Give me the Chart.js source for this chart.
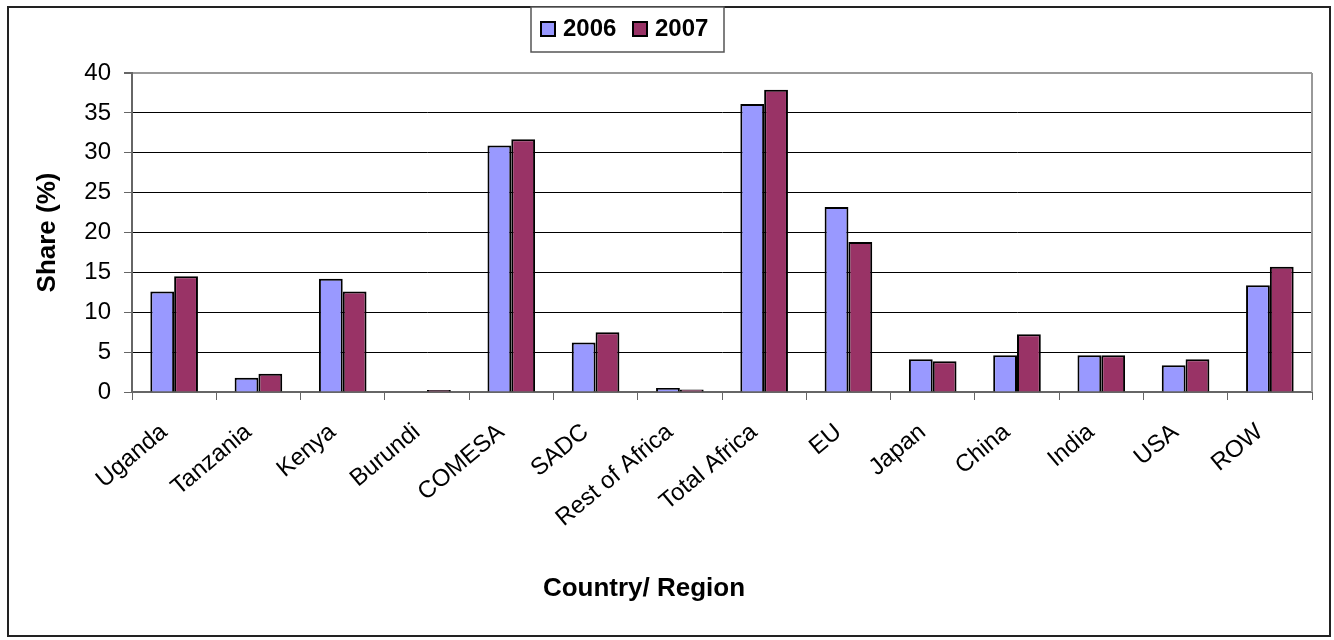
<!DOCTYPE html>
<html>
<head>
<meta charset="utf-8">
<title>Share by Country/ Region</title>
<script src="https://cdn.jsdelivr.net/npm/chart.js@4/dist/chart.umd.min.js"></script>
<style>
    html, body { margin: 0; padding: 0; background: #ffffff; }
    #chart-wrap { width: 1334px; height: 640px; position: relative; }
</style>
</head>
<body>
<div id="chart-wrap"><canvas id="share-chart"></canvas></div>
<script>
// Chart data
const categories = ['Uganda', 'Tanzania', 'Kenya', 'Burundi', 'COMESA', 'SADC', 'Rest of Africa',
    'Total Africa', 'EU', 'Japan', 'China', 'India', 'USA', 'ROW'];
const share2006 = [12.6, 1.8, 14.2, 0, 30.9, 6.2, 0.5, 36.1, 23.2, 4.1, 4.6, 4.6, 3.35, 13.4];
const share2007 = [14.5, 2.3, 12.6, 0.25, 31.7, 7.5, 0.3, 37.9, 18.8, 3.85, 7.25, 4.6, 4.1, 15.7];
const seriesLabels = ['2006', '2007'];
const yTickValues = [0, 5, 10, 15, 20, 25, 30, 35, 40];
const yAxisTitle = 'Share (%)';
const xAxisTitle = 'Country/ Region';

const COLOR_2006 = '#9999FF';
const COLOR_2007 = '#993366';
const FONT = 'Arial, "Liberation Sans", sans-serif';

// Outer frame, plot frame, legend box and x title
const framePlugin = {
    id: 'framePlugin',
    afterDraw(chart) {
        const ctx = chart.ctx;
        const area = chart.chartArea;
        ctx.save();

        // right edge of the plot area
        ctx.strokeStyle = '#999999';
        ctx.lineWidth = 2;
        ctx.beginPath();
        ctx.moveTo(area.right, area.top);
        ctx.lineTo(area.right, area.bottom);
        ctx.stroke();

        // outer chart border
        ctx.strokeStyle = '#222222';
        ctx.lineWidth = 2;
        ctx.strokeRect(8, 7, 1322, 629);

        // legend box
        ctx.fillStyle = '#ffffff';
        ctx.fillRect(531, 7, 193, 45);
        ctx.strokeStyle = '#555555';
        ctx.lineWidth = 1.5;
        ctx.strokeRect(531, 7, 193, 45);

        const items = chart.data.datasets.map(ds => ({ text: ds.label, color: ds.backgroundColor }));
        const itemX = [541, 633];
        ctx.font = 'bold 24px ' + FONT;
        ctx.textBaseline = 'middle';
        ctx.textAlign = 'left';
        items.forEach((item, i) => {
            ctx.fillStyle = item.color;
            ctx.fillRect(itemX[i], 22, 14, 14);
            ctx.strokeStyle = '#000000';
            ctx.lineWidth = 2;
            ctx.strokeRect(itemX[i], 22, 14, 14);
            ctx.fillStyle = '#000000';
            ctx.fillText(item.text, itemX[i] + 22, 29);
        });

        // x axis title
        ctx.font = 'bold 26px ' + FONT;
        ctx.textAlign = 'center';
        ctx.fillText(xAxisTitle, 644, 589);
        ctx.restore();
    }
};

function initializeShareChart() {
    const ctx = document.getElementById('share-chart');

    new Chart(ctx, {
        type: 'bar',
        data: {
            labels: categories,
            datasets: [{
                label: seriesLabels[0],
                data: share2006,
                backgroundColor: COLOR_2006,
                borderColor: '#000000',
                borderWidth: 2
            }, {
                label: seriesLabels[1],
                data: share2007,
                backgroundColor: COLOR_2007,
                borderColor: '#000000',
                borderWidth: 2
            }]
        },
        options: {
            responsive: true,
            maintainAspectRatio: false,
            animation: false,
            layout: {
                padding: { left: 0, right: 22, top: 73, bottom: 0 }
            },
            datasets: {
                bar: {
                    categoryPercentage: 0.565,
                    barPercentage: 1.0
                }
            },
            scales: {
                x: {
                    afterFit(scale) { scale.height = 248; },
                    grid: {
                        drawOnChartArea: false,
                        drawTicks: true,
                        tickLength: 8,
                        color: '#666666'
                    },
                    border: { display: true, color: '#666666', width: 2 },
                    ticks: {
                        autoSkip: false,
                        minRotation: 40,
                        maxRotation: 40,
                        padding: 18,
                        labelOffset: -10,
                        color: '#000000',
                        font: { family: FONT, size: 24 }
                    }
                },
                y: {
                    min: 0,
                    max: 40,
                    afterFit(scale) { scale.width = 132; },
                    afterBuildTicks(scale) {
                        scale.ticks = yTickValues.map(v => ({ value: v }));
                    },
                    grid: {
                        color: c => (c.tick && (c.tick.value === 40 || c.tick.value === 0)) ? '#999999' : '#000000',
                        lineWidth: c => (c.tick && c.tick.value === 40) ? 2 : 1,
                        tickColor: '#666666',
                        tickLength: 8
                    },
                    border: { display: true, color: '#666666', width: 2 },
                    ticks: {
                        padding: 13,
                        color: '#000000',
                        font: { family: FONT, size: 24 }
                    },
                    title: {
                        display: true,
                        text: yAxisTitle,
                        color: '#000000',
                        font: { family: FONT, size: 26, weight: 'bold' },
                        padding: { top: 32, bottom: 0 }
                    }
                }
            },
            plugins: {
                legend: { display: false },
                tooltip: { enabled: false }
            }
        },
        plugins: [framePlugin]
    });
}

document.addEventListener('DOMContentLoaded', initializeShareChart);
</script>
</body>
</html>
